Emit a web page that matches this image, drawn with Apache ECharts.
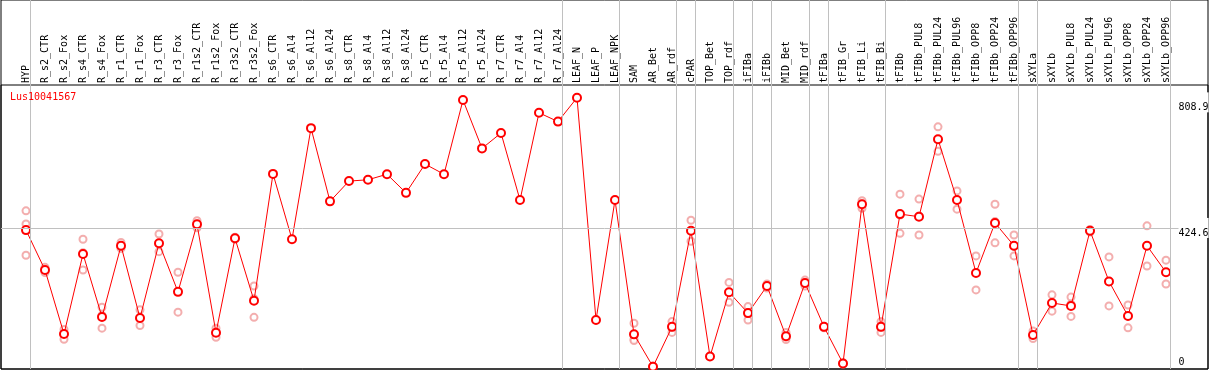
<!DOCTYPE html>
<html><head><meta charset="utf-8">
<script src="https://cdn.jsdelivr.net/npm/echarts@6/dist/echarts.min.js"></script>
<style>html,body{margin:0;padding:0;background:#fff}#c{width:1209px;height:370px}</style>
</head><body><div id="c"></div>
<script>
const TITLE = 'Lus10041567';
const CATEGORIES = ['HYP','R_s2_CTR','R_s2_Fox','R_s4_CTR','R_s4_Fox','R_r1_CTR','R_r1_Fox','R_r3_CTR','R_r3_Fox',
  'R_r1s2_CTR','R_r1s2_Fox','R_r3s2_CTR','R_r3s2_Fox','R_s6_CTR','R_s6_Al4','R_s6_Al12','R_s6_Al24',
  'R_s8_CTR','R_s8_Al4','R_s8_Al12','R_s8_Al24','R_r5_CTR','R_r5_Al4','R_r5_Al12','R_r5_Al24',
  'R_r7_CTR','R_r7_Al4','R_r7_Al12','R_r7_Al24','LEAF_N','LEAF_P','LEAF_NPK','SAM','AR_Bet','AR_rdf',
  'cPAR','TOP_Bet','TOP_rdf','iFIBa','iFIBb','MID_Bet','MID_rdf','tFIBa','tFIB_Gr','tFIB_Li','tFIB_Bi',
  'tFIBb','tFIBb_PUL8','tFIBb_PUL24','tFIBb_PUL96','tFIBb_OPP8','tFIBb_OPP24','tFIBb_OPP96',
  'sXYLa','sXYLb','sXYLb_PUL8','sXYLb_PUL24','sXYLb_PUL96','sXYLb_OPP8','sXYLb_OPP24','sXYLb_OPP96'];
const MEANS = [418,296,100,345,152,370,149,378,229,436,104,393,202,590,390,730,506,
  568,572,589,532,620,589,816,668,715,510,777,750,823,143,510,99,0,122,
  416,31,228,164,247,93,256,122,10,497,122,
  467,459,696,510,287,440,370,
  97,195,186,416,261,155,370,289];
const REP_A = [477,288,114,390,182,380,174,406,289,447,118,390,247,null,null,null,null,
  null,null,null,null,null,null,null,null,null,null,null,null,null,null,null,133,2,138,
  448,null,258,184,253,105,265,124,12,508,138,
  528,513,734,538,339,497,403,
  109,220,213,420,336,189,431,326];
const REP_B = [437,304,84,296,118,362,126,352,167,436,90,396,151,null,null,null,null,
  null,null,null,null,null,null,null,null,null,null,null,null,null,null,null,84,0,105,
  384,null,197,143,247,83,256,119,8,485,105,
  408,403,659,482,235,379,339,
  86,170,154,412,186,119,308,253];
const REP_C = [341,null,102,349,157,368,148,375,230,425,104,393,208,null,null,null,null,
  null,null,null,null,null,null,null,null,null,null,null,null,null,null,null,80,0,121,
  416,null,228,165,241,91,247,122,10,498,121,
  464,461,695,510,287,444,368,
  96,196,191,416,261,157,370,288];
const GROUP_ENDS = [-1,0,28,31,34,35,37,38,39,41,42,45,52,53,60];
const Y_TICKS = [0, 424.6, 808.9];
const GRID_VALUE = 424.6;
const Y_MIN = -7, Y_MAX = 862;

const FONT = 'DejaVu Sans Mono';
const chart = echarts.init(document.getElementById('c'), null, {renderer: 'canvas'});
const repData = [];
[REP_A, REP_B, REP_C].forEach(r => r.forEach((v, i) => { if (v != null) repData.push([i, v]); }));
const GRAY = '#c0c0c0';
const G = { outerBoundsMode: 'none', containLabel: false };

chart.setOption({
  animation: false,
  backgroundColor: '#fff',
  title: { text: TITLE, left: 10, top: 92, padding: 0,
    textStyle: { color: '#ff0000', fontFamily: FONT, fontSize: 10, fontWeight: 'normal' } },
  grid: [
    Object.assign({ left: 1, right: 1, top: 0, bottom: 1, show: true, borderColor: '#000', borderWidth: 1, backgroundColor: 'transparent' }, G),
    Object.assign({ left: 1, right: 1, top: 85, bottom: 1, show: true, borderColor: '#000', borderWidth: 1, backgroundColor: 'transparent' }, G),
    Object.assign({ left: 16.5, right: 33.5, top: 0, bottom: 1 }, G),
    Object.assign({ left: 16.5, right: 33.5, top: 85, bottom: 1 }, G)
  ],
  xAxis: [
    { gridIndex: 0, type: 'value', show: false },
    { gridIndex: 1, type: 'value', show: false, min: 0, max: 1 },
    { gridIndex: 2, type: 'value', show: false, min: -0.5, max: CATEGORIES.length - 0.5 },
    { gridIndex: 3, type: 'category', data: CATEGORIES, position: 'top', boundaryGap: true,
      axisLine: { show: false }, axisTick: { show: false }, splitLine: { show: false },
      axisLabel: { rotate: 90, interval: 0, margin: 2, fontFamily: FONT, fontSize: 10, color: '#000' } }
  ],
  yAxis: [
    { gridIndex: 0, type: 'value', show: false },
    { gridIndex: 1, type: 'value', show: false, min: Y_MIN, max: Y_MAX },
    { gridIndex: 2, type: 'value', show: false, min: 0, max: 1 },
    { gridIndex: 3, type: 'value', min: Y_MIN, max: Y_MAX, position: 'right', z: 10,
      axisLine: { show: false }, axisTick: { show: false }, splitLine: { show: false },
      axisLabel: { customValues: Y_TICKS, margin: 3, fontFamily: FONT, fontSize: 10, color: '#000',
        formatter: v => (v === 0 ? '{lo|' + v + '}' : '{hi|' + v + '}'),
        rich: {
          hi: { fontFamily: FONT, fontSize: 10, color: '#000', padding: [10, 0, 0, 0], backgroundColor: '#fff' },
          lo: { fontFamily: FONT, fontSize: 10, color: '#000', padding: [0, 0, 9, 0] }
        } } }
  ],
  series: [
    { type: 'line', xAxisIndex: 2, yAxisIndex: 2, data: [[0, 0]], showSymbol: false,
      lineStyle: { opacity: 0 }, silent: true, z: 1,
      markLine: { silent: true, symbol: 'none', animation: false, label: { show: false },
        lineStyle: { color: GRAY, width: 1, type: 'solid' },
        data: GROUP_ENDS.map(g => ({ xAxis: g + 0.23 })) } },
    { type: 'line', xAxisIndex: 1, yAxisIndex: 1, data: [[0, 0]], showSymbol: false,
      lineStyle: { opacity: 0 }, silent: true, z: 1,
      markLine: { silent: true, symbol: 'none', animation: false, label: { show: false },
        lineStyle: { color: GRAY, width: 1, type: 'solid' },
        data: [{ yAxis: GRID_VALUE }] } },
    { type: 'scatter', xAxisIndex: 3, yAxisIndex: 3, data: repData, z: 3,
      symbol: 'emptyCircle', symbolSize: 7,
      itemStyle: { color: '#f09a9a', borderColor: '#f09a9a', borderWidth: 1 } },
    { type: 'line', xAxisIndex: 3, yAxisIndex: 3, data: MEANS, z: 4,
      symbol: 'emptyCircle', symbolSize: 8, showAllSymbol: true,
      lineStyle: { color: '#ff0000', width: 1 },
      itemStyle: { color: '#ff0000', borderColor: '#ff0000', borderWidth: 1.2 } }
  ]
});
</script></body></html>
